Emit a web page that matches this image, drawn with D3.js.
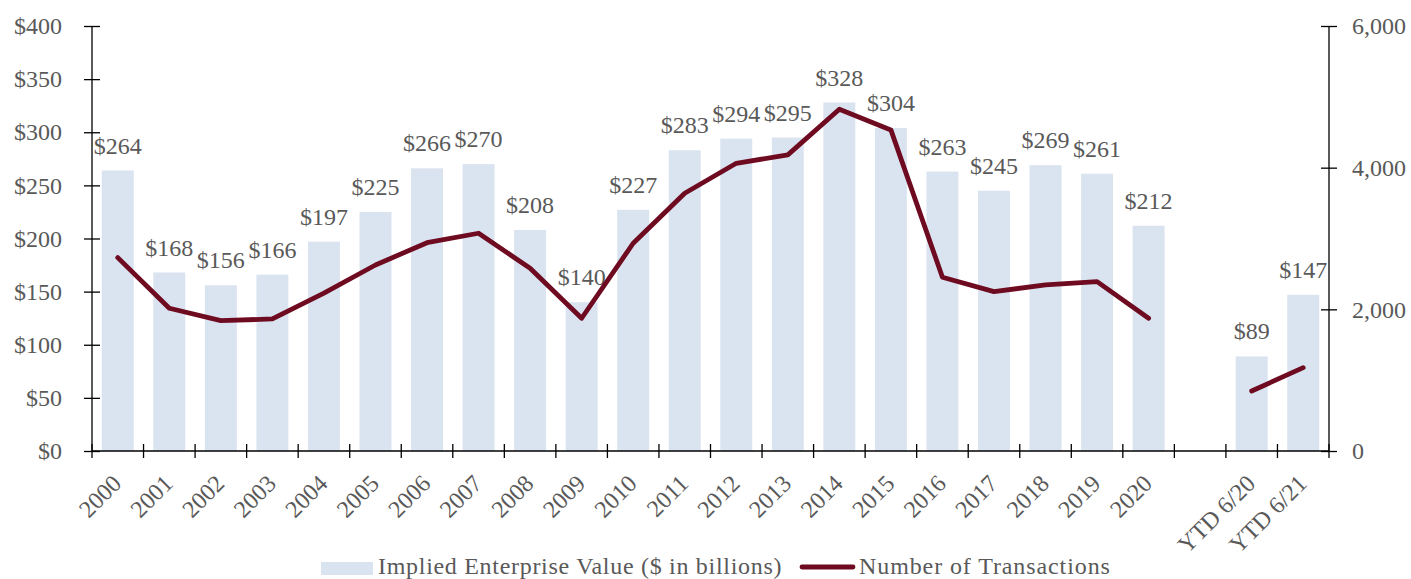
<!DOCTYPE html>
<html>
<head>
<meta charset="utf-8">
<script src="https://cdn.jsdelivr.net/npm/d3@7"></script>
<style>
  html, body { margin: 0; padding: 0; background: #fff; }
  svg text { font-family: "Liberation Serif", "DejaVu Serif", serif; fill: #595959; }
</style>
</head>
<body>
<svg id="chart" width="1411" height="579"></svg>
<script>
const categories = ["2000","2001","2002","2003","2004","2005","2006","2007","2008","2009","2010",
  "2011","2012","2013","2014","2015","2016","2017","2018","2019","2020"," ","YTD 6/20","YTD 6/21"];
const enterpriseValue = [264,168,156,166,197,225,266,270,208,140,227,283,294,295,328,304,263,245,269,261,212,null,89,147];
const transactions = [2730,2015,1840,1864,2230,2626,2941,3074,2580,1874,2933,3639,4062,4180,4825,4533,2453,2250,2344,2391,1874,null,847,1177];
const leftTicks = [0,50,100,150,200,250,300,350,400];
const rightTicks = [0,2000,4000,6000];
const seriesNames = ["Implied Enterprise Value ($ in billions)", "Number of Transactions"];

const svg = d3.select("#chart");
const L = 92, R = 1329, T = 26, B = 451;
const barColor = "#dae3f0", lineColor = "#6e0b20";
const FS = 24;

const x = d3.scaleBand().domain(categories).range([L, R]).paddingInner(0.38).paddingOuter(0.19);
const yL = d3.scaleLinear().domain([0, 400]).range([B, T]);
const yR = d3.scaleLinear().domain([0, 6000]).range([B, T]);

const data = categories.map((c, i) => ({ c, v: enterpriseValue[i], t: transactions[i] }));

// bars
svg.append("g").selectAll("rect").data(data.filter(d => d.v != null)).join("rect")
  .attr("x", d => x(d.c)).attr("width", x.bandwidth())
  .attr("y", d => yL(d.v)).attr("height", d => yL(0) - yL(d.v))
  .attr("fill", barColor);

// bar labels
svg.append("g").selectAll("text").data(data.filter(d => d.v != null)).join("text")
  .attr("x", d => x(d.c) + x.bandwidth() / 2)
  .attr("y", d => yL(d.v) - 17)
  .attr("text-anchor", "middle")
  .attr("font-size", FS)
  .text(d => "$" + d.v);

// line
const line = d3.line().defined(d => d.t != null)
  .x(d => x(d.c) + x.bandwidth() / 2).y(d => yR(d.t));
svg.append("path").datum(data).attr("d", line)
  .attr("fill", "none").attr("stroke", lineColor).attr("stroke-width", 4.8)
  .attr("stroke-linejoin", "round").attr("stroke-linecap", "round");

// left axis
const gL = svg.append("g").attr("transform", `translate(${L},0)`)
  .call(d3.axisLeft(yL).tickValues(leftTicks).tickFormat(d => "$" + d).tickSize(8).tickPadding(22));
gL.selectAll(".tick line").attr("x1", -8).attr("x2", 8);
gL.selectAll(".tick text").attr("font-size", FS).attr("fill", "#595959").attr("font-family", "Liberation Serif");
gL.select(".domain").attr("d", `M0,${T}V${B}`);

// right axis
const gR = svg.append("g").attr("transform", `translate(${R},0)`)
  .call(d3.axisRight(yR).tickValues(rightTicks).tickFormat(d3.format(",")).tickSize(8).tickPadding(15));
gR.selectAll(".tick line").attr("x1", -8).attr("x2", 8);
gR.selectAll(".tick text").attr("font-size", FS).attr("fill", "#595959").attr("font-family", "Liberation Serif");
gR.select(".domain").attr("d", `M0,${T}V${B}`);

[gL, gR].forEach(g => {
  g.selectAll("line, path").attr("stroke", "#000").attr("stroke-width", 1.3);
});

// x axis baseline and boundary ticks
const gX = svg.append("g");
gX.append("line").attr("x1", L).attr("x2", R).attr("y1", B).attr("y2", B)
  .attr("stroke", "#000").attr("stroke-width", 1.3);
const bounds = categories.map(c => x(c) - x.step() * x.paddingInner() / 2).concat([R]);
gX.selectAll("line.tk").data(bounds).join("line").attr("class", "tk")
  .attr("x1", d => d).attr("x2", d => d).attr("y1", B - 7).attr("y2", B + 7)
  .attr("stroke", "#000").attr("stroke-width", 1.3);
gX.selectAll("text").data(categories.filter(c => c.trim() !== "")).join("text")
  .attr("transform", c => `translate(${x(c) + x.bandwidth() / 2 + 5},${B + 34}) rotate(-45)`)
  .attr("text-anchor", "end")
  .attr("font-size", FS)
  .text(c => c);

// legend
const lg = svg.append("g");
lg.append("rect").attr("x", 321).attr("y", 562).attr("width", 52).attr("height", 13).attr("fill", barColor);
lg.append("text").attr("x", 378).attr("y", 574).attr("font-size", FS).attr("letter-spacing", 0.7).text(seriesNames[0]);
lg.append("line").attr("x1", 802).attr("x2", 853).attr("y1", 567).attr("y2", 567)
  .attr("stroke", lineColor).attr("stroke-width", 4.8).attr("stroke-linecap", "round");
lg.append("text").attr("x", 859).attr("y", 574).attr("font-size", FS).attr("letter-spacing", 0.9).text(seriesNames[1]);
</script>
</body>
</html>
